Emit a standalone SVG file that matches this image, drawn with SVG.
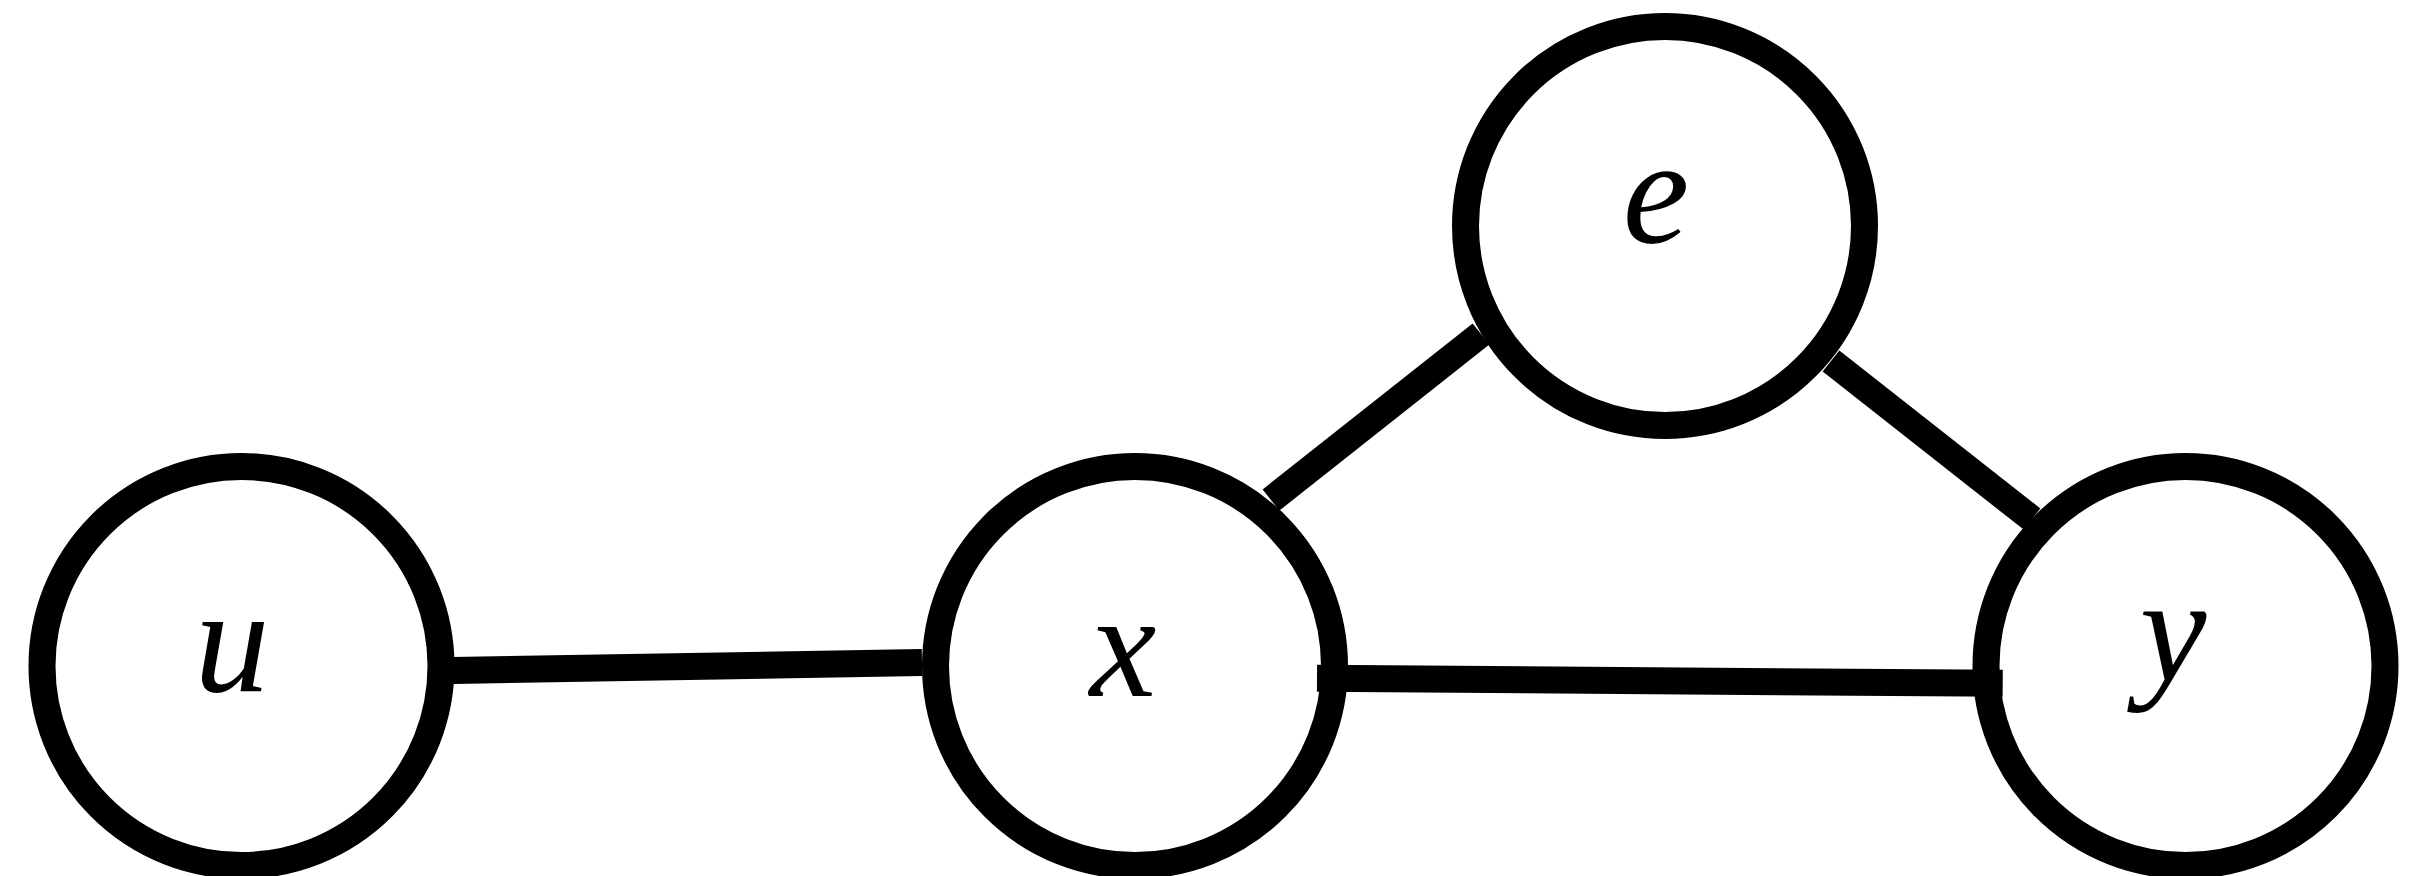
<svg xmlns="http://www.w3.org/2000/svg" width="2418" height="876" viewBox="0 0 2418 876">
<style>
.node circle{fill:#fff;stroke:#000;stroke-width:27}
.node text{font-family:"Liberation Serif","Times New Roman",serif;font-style:italic;font-size:150px;fill:#000;text-anchor:middle}
.edges line{stroke:#000;stroke-width:27;stroke-linecap:butt}
</style>
<rect width="2418" height="876" fill="#fff"/>
<g id="node-u" class="node"><circle cx="241.5" cy="666" r="199.5"/><text x="232" y="691">u</text></g>
<g id="node-x" class="node"><circle cx="1135" cy="666" r="199.5"/><text x="1123" y="696">x</text></g>
<g id="node-e" class="node"><circle cx="1665" cy="226" r="199.5"/><text x="1656" y="243">e</text></g>
<g id="node-y" class="node"><circle cx="2185.5" cy="666" r="199.5"/><text x="2173" y="681">y</text></g>
<g id="edges" class="edges">
<line x1="453" y1="670.5" x2="922" y2="662.5"/>
<line x1="1317" y1="678.3" x2="2002.7" y2="683.3"/>
<line x1="1271" y1="500" x2="1481" y2="334"/>
<line x1="1831" y1="361" x2="2032" y2="519"/>
</g>
</svg>
